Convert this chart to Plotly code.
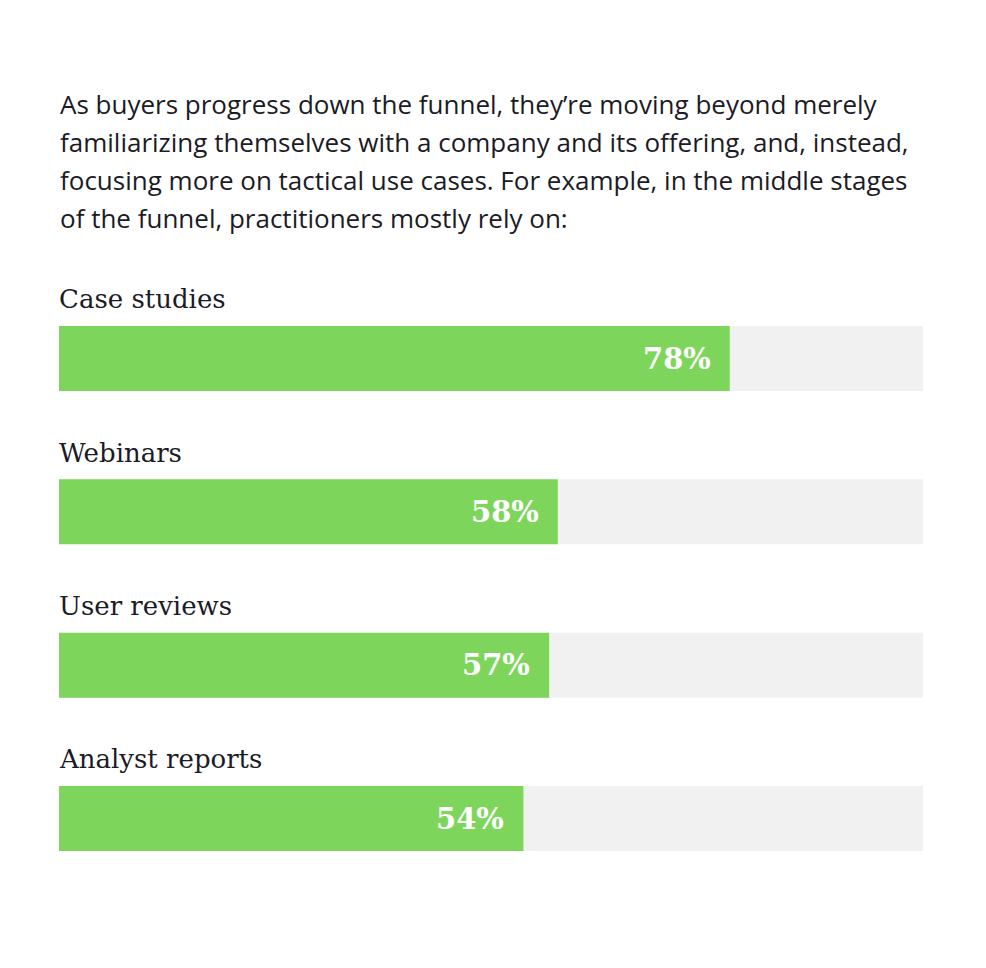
import plotly.graph_objects as go

categories = ["Case studies", "Webinars", "User reviews", "Analyst reports"]
values = [78, 58, 57, 54]
value_labels = ["78%", "58%", "57%", "54%"]
intro_lines = [
    "As buyers progress down the funnel, they\u2019re moving beyond merely",
    "familiarizing themselves with a company and its offering, and, instead,",
    "focusing more on tactical use cases. For example, in the middle stages",
    "of the funnel, practitioners mostly rely on:",
]

W, H = 986, 968
GREEN = "#7dd65b"
GRAY = "#f1f1f1"
DARK = "#1b1b26"
AXIS_MAX = 100.47  # track extends slightly beyond 100%

pos = list(range(len(categories)))
track = [AXIS_MAX] * len(categories)

fig = go.Figure()
fig.add_trace(go.Bar(x=track, y=pos, orientation="h", marker=dict(color=GRAY, line=dict(width=0)),
                     width=0.424, hoverinfo="skip", showlegend=False))
fig.add_trace(go.Bar(x=values, y=pos, orientation="h", marker=dict(color=GREEN, line=dict(width=0)),
                     width=0.424, showlegend=False, hovertext=categories))

ann = []
for i, (c, v, t) in enumerate(zip(categories, values, value_labels)):
    ann.append(dict(x=0, y=i - 0.385, xref="x", yref="y", text=c, showarrow=False,
                    xanchor="left", yanchor="middle", xshift=-2,
                    font=dict(family="DejaVu Serif", size=26, color=DARK)))
    ann.append(dict(x=v, y=i, xref="x", yref="y", text="<b>" + t + "</b>", showarrow=False,
                    xanchor="right", yanchor="middle", xshift=-17,
                    font=dict(family="DejaVu Serif", size=29, color="white")))

for j, line in enumerate(intro_lines):
    ann.append(dict(x=58 / W, y=1 - (104 + 38 * j) / H, xref="paper", yref="paper", text=line,
                    showarrow=False, xanchor="left", yanchor="middle",
                    font=dict(family="Open Sans", size=26, color=DARK)))

fig.update_layout(
    width=W, height=H, margin=dict(l=0, r=0, t=0, b=0),
    paper_bgcolor="white", plot_bgcolor="white", barmode="overlay",
    xaxis=dict(domain=[59 / W, 923 / W], range=[0, AXIS_MAX], visible=False, fixedrange=True),
    yaxis=dict(domain=[0, 1], range=[3.975, -2.338], visible=False, fixedrange=True),
    annotations=ann,
)
fig.write_html("out.html")
